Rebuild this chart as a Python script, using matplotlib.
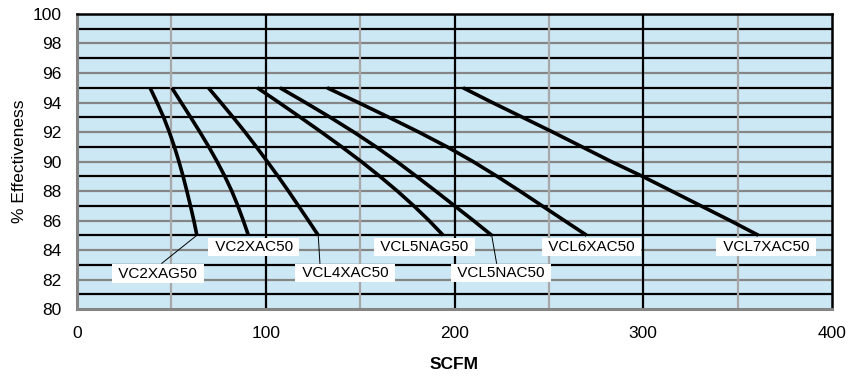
import numpy as np
import matplotlib.pyplot as plt

plt.rcParams['font.family'] = ['Liberation Sans', 'DejaVu Sans']

# effectiveness levels shared by every curve (%)
effectiveness = [95, 94, 93, 92, 91, 90, 89, 88, 87, 86, 85]

# airflow (SCFM) for each model at the levels above
vc2xag50 = [38.7, 42.4, 45.9, 48.9, 51.6, 54.0, 56.2, 58.2, 60.1, 61.9, 63.5]
vc2xac50 = [50.2, 55.2, 60.2, 65.1, 69.8, 74.2, 78.3, 82.0, 85.2, 88.1, 90.8]
vcl4xac50 = [69.6, 76.2, 82.7, 89.0, 95.0, 100.8, 106.5, 112.0, 117.3, 122.6, 127.8]
vcl5nag50 = [95.5, 107.0, 118.3, 129.4, 140.2, 150.6, 160.4, 169.7, 178.4, 186.5, 194.0]
vcl5nac50 = [107.5, 121.0, 134.1, 146.6, 158.4, 169.4, 179.8, 190.0, 200.0, 210.0, 219.7]
vcl6xac50 = [132.5, 149.0, 165.2, 181.0, 196.0, 209.8, 222.5, 234.6, 246.4, 258.2, 270.0]
vcl7xac50 = [204.5, 220.0, 236.0, 252.0, 267.5, 283.0, 299.5, 315.0, 330.5, 346.0, 361.0]

model_names = ['VC2XAG50', 'VC2XAC50', 'VCL4XAC50', 'VCL5NAG50',
               'VCL5NAC50', 'VCL6XAC50', 'VCL7XAC50']
model_flows = [vc2xag50, vc2xac50, vcl4xac50, vcl5nag50,
               vcl5nac50, vcl6xac50, vcl7xac50]

x_ticks = [0, 100, 200, 300, 400]
y_ticks = list(range(80, 101, 2))

fig = plt.figure(figsize=(8.49, 3.76), dpi=100)
ax = fig.add_axes([0.0907, 0.178, 0.8893, 0.7848])
ax.set_facecolor('#cce8f4')

# horizontal grid: black on odd values, grey on even ones
for v in range(81, 100, 2):
    ax.axhline(v, color='black', lw=1.6, zorder=1)
for v in range(82, 100, 2):
    ax.axhline(v, color='#858585', lw=1.6, zorder=1)
# vertical grid
for v in [50, 150, 250, 350]:
    ax.axvline(v, color='#a8a8a8', lw=1.6, zorder=1)
for v in [100, 200, 300]:
    ax.axvline(v, color='black', lw=1.6, zorder=1)

for flows in model_flows:
    ax.plot(flows, effectiveness, color='black', lw=2.6,
            solid_capstyle='butt', solid_joinstyle='round', zorder=3)

# label placement (x, y) and optional leader end point
label_pos = {
    'VC2XAG50': (42.9, 82.4, (44.9, 83.1)),
    'VC2XAC50': (93.7, 84.2, None),
    'VCL4XAC50': (142.0, 82.45, (128.7, 83.1)),
    'VCL5NAG50': (184.2, 84.2, None),
    'VCL5NAC50': (224.6, 82.45, (222.3, 83.1)),
    'VCL6XAC50': (272.6, 84.2, None),
    'VCL7XAC50': (365.0, 84.2, None),
}
for name, flows in zip(model_names, model_flows):
    lx, ly, lead = label_pos[name]
    if lead is not None:
        ax.plot([flows[-1], lead[0]], [effectiveness[-1], lead[1]],
                color='black', lw=0.7, zorder=4)
    ax.text(lx, ly, ' ' + name + ' ', ha='center', va='center', fontsize=11,
            zorder=5,
            bbox=dict(boxstyle='square,pad=0.15', fc='white', ec='none'))

ax.set_xlim(0, 400)
ax.set_ylim(80, 100)
ax.set_xticks(x_ticks)
ax.set_yticks(y_ticks)
ax.tick_params(length=0, labelsize=12.5)
ax.tick_params(axis='x', pad=12)
ax.tick_params(axis='y', pad=11)

for side in ['top', 'right']:
    ax.spines[side].set_color('black')
    ax.spines[side].set_linewidth(1.8)
for side in ['left', 'bottom']:
    ax.spines[side].set_color('#858585')
    ax.spines[side].set_linewidth(2.2)

ax.set_xlabel('SCFM', fontsize=12.5, fontweight='bold', labelpad=12)
ax.set_ylabel('% Effectiveness', fontsize=12.5, labelpad=4)

fig.savefig('out.png', dpi=100)
